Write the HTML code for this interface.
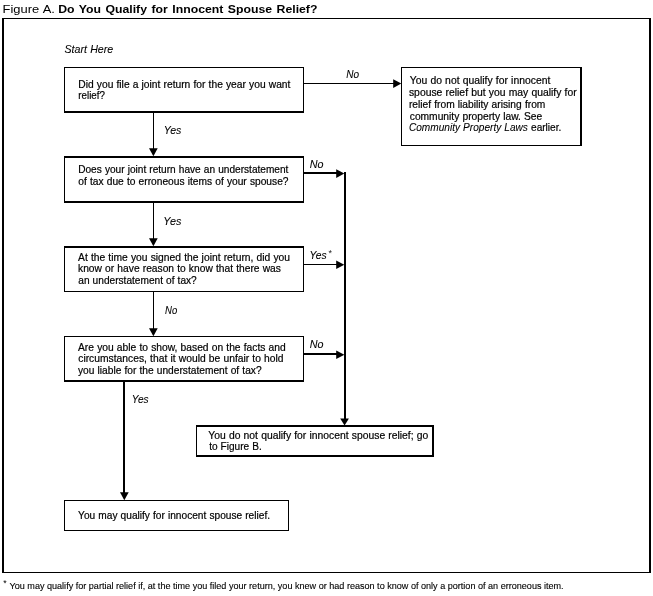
<!DOCTYPE html>
<html lang="en"><head><meta charset="utf-8"><title>Figure A. Do You Qualify for Innocent Spouse Relief?</title>
<style>html,body{margin:0;padding:0;background:#fff;}body{width:653px;height:596px;overflow:hidden;}svg{display:block;filter:grayscale(1);}text{font-family:"Liberation Sans",Arial,Helvetica,sans-serif;fill:#000;stroke:#000;stroke-width:0.2px;}.b{font-size:10.5px;word-spacing:0.3px;}.i{font-style:italic;stroke-width:0.08px;}.t{font-size:11.5px;word-spacing:0.5px;stroke-width:0;}.tb{font-size:11.5px;font-weight:bold;stroke-width:0;word-spacing:1px;}.f{font-size:9.6px;stroke-width:0.12px;}.s{font-size:9px;stroke-width:0;fill:#222;}.s2{font-size:8.8px;stroke-width:0;}</style></head><body>
<svg width="653" height="596" viewBox="0 0 653 596">
<rect width="653" height="596" fill="#fff"/>
<g fill="#000">
<rect x="2.00" y="18.00" width="649.00" height="1.00"/>
<rect x="2.00" y="572.00" width="649.00" height="1.00"/>
<rect x="2.00" y="18.00" width="2.00" height="555.00"/>
<rect x="649.00" y="18.00" width="2.00" height="555.00"/>
<rect x="64.00" y="67.00" width="240.00" height="1.00"/>
<rect x="64.00" y="111.00" width="240.00" height="2.00"/>
<rect x="64.00" y="67.00" width="1.00" height="46.00"/>
<rect x="303.00" y="67.00" width="1.00" height="46.00"/>
<rect x="401.00" y="67.00" width="181.00" height="1.00"/>
<rect x="401.00" y="145.00" width="181.00" height="1.00"/>
<rect x="401.00" y="67.00" width="1.00" height="79.00"/>
<rect x="580.00" y="67.00" width="2.00" height="79.00"/>
<rect x="64.00" y="156.00" width="240.00" height="2.00"/>
<rect x="64.00" y="201.00" width="240.00" height="2.00"/>
<rect x="64.00" y="156.00" width="1.00" height="47.00"/>
<rect x="303.00" y="156.00" width="1.00" height="47.00"/>
<rect x="64.00" y="246.00" width="240.00" height="2.00"/>
<rect x="64.00" y="291.00" width="240.00" height="1.00"/>
<rect x="64.00" y="246.00" width="1.00" height="46.00"/>
<rect x="303.00" y="246.00" width="1.00" height="46.00"/>
<rect x="64.00" y="336.00" width="240.00" height="1.00"/>
<rect x="64.00" y="380.00" width="240.00" height="2.00"/>
<rect x="64.00" y="336.00" width="1.00" height="46.00"/>
<rect x="303.00" y="336.00" width="1.00" height="46.00"/>
<rect x="196.00" y="425.00" width="238.00" height="2.00"/>
<rect x="196.00" y="455.00" width="238.00" height="2.00"/>
<rect x="196.00" y="425.00" width="1.00" height="32.00"/>
<rect x="432.00" y="425.00" width="2.00" height="32.00"/>
<rect x="64.00" y="500.00" width="225.00" height="1.00"/>
<rect x="64.00" y="530.00" width="225.00" height="1.00"/>
<rect x="64.00" y="500.00" width="1.00" height="31.00"/>
<rect x="288.00" y="500.00" width="1.00" height="31.00"/>
<rect x="304.00" y="83.00" width="91.00" height="1.00"/>
<polygon points="393.2,79.3 401.3,83.6 393.2,87.9"/>
<rect x="153.00" y="113.00" width="1.00" height="37.00"/>
<polygon points="149,148.3 157.7,148.3 153.4,156.3"/>
<rect x="153.00" y="203.00" width="1.00" height="37.00"/>
<polygon points="149,238.3 157.7,238.3 153.4,246.3"/>
<rect x="153.00" y="292.00" width="1.00" height="38.00"/>
<polygon points="149,328.3 157.7,328.3 153.4,336.3"/>
<rect x="304.00" y="172.00" width="34.00" height="2.00"/>
<polygon points="336.2,169.2 344.3,173.6 336.2,178.1"/>
<rect x="344.00" y="172.00" width="2.00" height="248.00"/>
<polygon points="340.2,418.4 348.9,418.4 344.6,425.4"/>
<rect x="304.00" y="264.00" width="34.00" height="1.00"/>
<polygon points="336.2,260.6 344.3,264.8 336.2,269.1"/>
<rect x="304.00" y="353.00" width="34.00" height="2.00"/>
<polygon points="336.2,350.4 344.4,354.7 336.2,359.1"/>
<rect x="123.00" y="382.00" width="2.00" height="112.00"/>
<polygon points="120.0,492.3 128.7,492.3 124.3,500.3"/>
</g>
<text class="t" x="2.60" y="12.70" textLength="52.28" lengthAdjust="spacingAndGlyphs">Figure A.</text>
<text class="tb" x="58.15" y="12.70" textLength="259.31" lengthAdjust="spacingAndGlyphs">Do You Qualify for Innocent Spouse Relief?</text>
<text class="b i" x="64.46" y="53.30" textLength="48.79" lengthAdjust="spacingAndGlyphs">Start Here</text>
<text class="b" x="78.28" y="88.00" textLength="212.16" lengthAdjust="spacingAndGlyphs">Did you file a joint return for the year you want</text>
<text class="b" x="78.32" y="98.80" textLength="26.58" lengthAdjust="spacingAndGlyphs">relief?</text>
<text class="b i" x="163.75" y="133.60" textLength="17.58" lengthAdjust="spacingAndGlyphs">Yes</text>
<text class="b i" x="346.32" y="77.50" textLength="12.83" lengthAdjust="spacingAndGlyphs">No</text>
<text class="b" x="409.76" y="83.70" textLength="140.54" lengthAdjust="spacingAndGlyphs">You do not qualify for innocent</text>
<text class="b" x="408.95" y="95.70" textLength="167.75" lengthAdjust="spacingAndGlyphs">spouse relief but you may qualify for</text>
<text class="b" x="408.92" y="107.60" textLength="136.44" lengthAdjust="spacingAndGlyphs">relief from liability arising from</text>
<text class="b" x="409.75" y="119.60" textLength="132.51" lengthAdjust="spacingAndGlyphs">community property law. See</text>
<text class="b" x="408.95" y="131.30" textLength="152.37" lengthAdjust="spacingAndGlyphs"><tspan class="i">Community Property Laws</tspan> earlier.</text>
<text class="b" x="78.19" y="172.80" textLength="210.22" lengthAdjust="spacingAndGlyphs">Does your joint return have an understatement</text>
<text class="b" x="78.32" y="185.00" textLength="210.21" lengthAdjust="spacingAndGlyphs">of tax due to erroneous items of your spouse?</text>
<text class="b i" x="309.65" y="167.50" textLength="13.77" lengthAdjust="spacingAndGlyphs">No</text>
<text class="b i" x="163.38" y="224.60" textLength="17.97" lengthAdjust="spacingAndGlyphs">Yes</text>
<text class="b" x="78.02" y="260.60" textLength="212.01" lengthAdjust="spacingAndGlyphs">At the time you signed the joint return, did you</text>
<text class="b" x="78.06" y="272.20" textLength="202.84" lengthAdjust="spacingAndGlyphs">know or have reason to know that there was</text>
<text class="b" x="78.26" y="284.40" textLength="118.51" lengthAdjust="spacingAndGlyphs">an understatement of tax?</text>
<text class="b i" x="309.40" y="258.70" textLength="17.19" lengthAdjust="spacingAndGlyphs">Yes</text>
<text class="s" x="328.40" y="256.00">*</text>
<text class="b i" x="165.04" y="314.00" textLength="12.18" lengthAdjust="spacingAndGlyphs">No</text>
<text class="b" x="78.02" y="350.50" textLength="207.71" lengthAdjust="spacingAndGlyphs">Are you able to show, based on the facts and</text>
<text class="b" x="78.25" y="361.70" textLength="205.34" lengthAdjust="spacingAndGlyphs">circumstances, that it would be unfair to hold</text>
<text class="b" x="78.00" y="373.60" textLength="183.58" lengthAdjust="spacingAndGlyphs">you liable for the understatement of tax?</text>
<text class="b i" x="309.65" y="347.50" textLength="13.77" lengthAdjust="spacingAndGlyphs">No</text>
<text class="b i" x="131.73" y="402.60" textLength="16.84" lengthAdjust="spacingAndGlyphs">Yes</text>
<text class="b" x="208.31" y="438.50" textLength="220.00" lengthAdjust="spacingAndGlyphs">You do not qualify for innocent spouse relief; go</text>
<text class="b" x="209.14" y="450.00" textLength="52.66" lengthAdjust="spacingAndGlyphs">to Figure B.</text>
<text class="b" x="78.11" y="518.60" textLength="191.94" lengthAdjust="spacingAndGlyphs">You may qualify for innocent spouse relief.</text>
<text class="s2" x="3.30" y="585.90">*</text>
<text class="f" x="9.51" y="588.90" textLength="554.14" lengthAdjust="spacingAndGlyphs">You may qualify for partial relief if, at the time you filed your return, you knew or had reason to know of only a portion of an erroneous item.</text>
</svg></body></html>
